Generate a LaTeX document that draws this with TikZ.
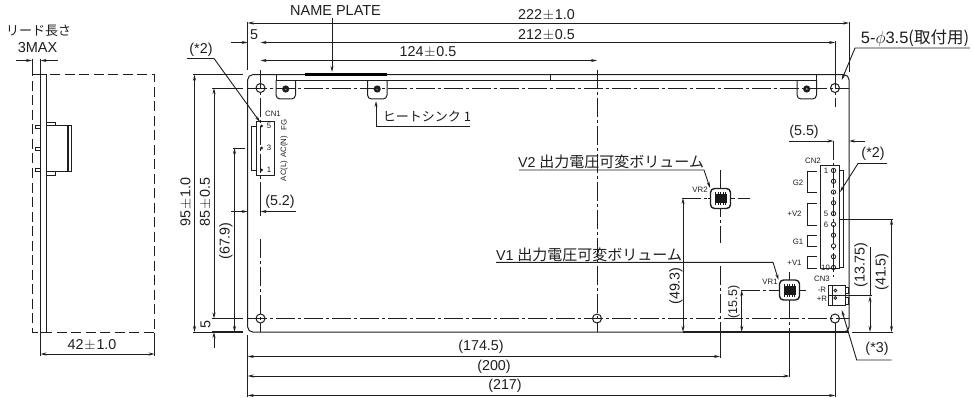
\documentclass[tikz,border=0pt]{standalone}
\usepackage{fontspec}
\setmainfont{Liberation Sans}
\newfontfamily\jpfont{Noto Sans CJK JP}
\usetikzlibrary{arrows.meta, positioning, calc}
\definecolor{ink}{RGB}{30, 30, 30}
\newcommand{\pmwide}{\hbox to 13pt{\hss$\pm$\hss}}
\tikzset{
  thin line/.style={draw=ink, line width=0.8pt},
  part line/.style={draw=ink, line width=1pt},
  dim line/.style={draw=ink, line width=0.9pt, {Stealth[length=6pt,width=3pt]}-{Stealth[length=6pt,width=3pt]}},
  tip end/.style={draw=ink, line width=0.9pt, -{Stealth[length=6pt,width=3pt]}},
  center line/.style={draw=ink, line width=0.8pt, dash pattern=on 19pt off 3pt on 3pt off 3pt},
  hidden line/.style={draw=ink, line width=1pt, dash pattern=on 10pt off 4.5pt},
  label text/.style={inner sep=0pt, text=ink, font=\fontsize{14.3}{16}\selectfont},
  tiny text/.style={inner sep=0pt, text=ink, font=\fontsize{7.8}{8}\selectfont},
}
\begin{document}
\begin{tikzpicture}[x=1pt, y=-1pt]
  \useasboundingbox (0,0) rectangle (973,398);
  % side view
  \draw[hidden line] (40.5,75) -- (32,75) -- (32,332) -- (154.7,332) -- (154.7,75) -- (46,75);
  \draw[part line] (40.5,75) rectangle (46,332);
  \draw[part line] (46,126) rectangle (71.7,171);
  \draw[draw=ink, line width=1.5pt] (68,126) -- (68,171);
  \draw[thin line] (46,122) -- (55,122) -- (55,126);
  \draw[thin line] (46,175) -- (55,175) -- (55,171);
  \foreach \py in {125.5, 147, 168.5} {
    \draw[thin line] (35.5,\py) rectangle (40.5,\py+3);
  }
  \draw[thin line] (32,59) -- (32,75);
  \draw[thin line] (40.5,59) -- (40.5,75);
  \draw[tip end] (16,60.5) -- (32,60.5);
  \draw[tip end] (58,60.5) -- (40.5,60.5);
  \node[label text, font=\jpfont\fontsize{13}{15}\selectfont] (leadlen) at (38.5,31) {リード長さ};
  \node[label text, font=\fontsize{14.5}{15}\selectfont] (leadmax) at (37.5,48) {3MAX};
  \draw[thin line] (40.5,333) -- (40.5,356);
  \draw[thin line] (154.7,333) -- (154.7,356);
  \draw[dim line] (40.5,354) -- (154.7,354);
  \node[label text] (depth) at (92,345) {42\pmwide 1.0};

  % board outline and heat sink
  \draw[part line, rounded corners=5pt] (247.7,74.7) rectangle (849,332);
  \draw[part line] (276,74.7) -- (276,80.5) -- (816.7,80.5) -- (816.7,74.7);
  \draw[draw=ink, line width=1.3pt] (276,74.7) -- (816.7,74.7);
  \draw[draw=black, line width=2.2pt] (305,74.5) -- (387,74.5);
  \draw[thin line] (550.7,75) -- (550.7,80.5);
  \foreach \tx in {276, 367.5, 797} {
    \draw[part line, rounded corners=4pt] (\tx,80.5) -- (\tx,99) -- (\tx+19.5,99) -- (\tx+19.5,80.5);
    \fill[ink] (\tx+9.7,89) circle (3.6pt);
    \fill[black!45] (\tx+9.7,89) circle (1.2pt);
  }

  % center lines
  \draw[center line] (248,88) -- (849,88);
  \draw[center line] (248,318.5) -- (849,318.5);
  \draw[center line] (260.5,70) -- (260.5,196);
  \draw[center line] (260.5,239) -- (260.5,332);
  \draw[center line] (597,70) -- (597,332);
  \draw[center line] (835,70) -- (835,107);
  \draw[center line] (720,170) -- (720,243);
  \draw[center line] (720,266) -- (720,332);
  \draw[center line] (789.5,272) -- (789.5,332);
  \draw[center line] (682,198) -- (750,198);
  \draw[center line] (741,290) -- (806,290);
  \draw[center line] (833.5,141) -- (833.5,277);
  \foreach \hx/\hy in {260.5/88, 835/88, 260.5/318.5, 597/318.5, 835/318.5} {
    \draw[part line] (\hx,\hy) circle (4.5pt);
  }

  % CN1
  \draw[thin line] (256,121.5) rectangle (274.3,175);
  \draw[thin line] (256,126.5) -- (251.7,126.5) -- (251.7,170) -- (256,170);
  \foreach \py/\pnum in {126/5, 148/3, 170/1} {
    \fill[ink] (261.5,\py) circle (1.5pt);
    \node[tiny text] (cna\pnum) at (269,\py) {\pnum};
  }
  \node[tiny text] (cn1) at (273,114) {CN1};
  \node[tiny text, rotate=90] (fg) at (284,125) {FG};
  \node[tiny text, rotate=90] (acn) at (284,147) {AC(N)};
  \node[tiny text, rotate=90] (acl) at (284,171) {AC(L)};

  % CN2
  \draw[thin line] (820.7,165) rectangle (839,268);
  \draw[thin line] (839,170) -- (843.7,170) -- (843.7,267.5) -- (839,267.5);
  \foreach \pin in {0,...,9} {
    \draw[thin line] (833.5,170.5+10.78*\pin) circle (2.2pt);
  }
  \node[tiny text] (pin1) at (826,170.5) {1};
  \node[tiny text] (pin5) at (826,214) {5};
  \node[tiny text] (pin6) at (826,225) {6};
  \node[tiny text] (pin10) at (825.5,267.5) {10};
  \node[tiny text] (cn2) at (813,161) {CN2};
  \foreach \by/\bh in {171/21.5, 203/22, 235/11, 256.7/11.3} {
    \draw[thin line] (816.7,\by) -- (807,\by) -- (807,\by+\bh) -- (816.7,\by+\bh);
  }
  \node[tiny text] (g2) at (798,183) {G2};
  \node[tiny text] (vtwo) at (794.5,214) {+V2};
  \node[tiny text] (g1) at (798,242) {G1};
  \node[tiny text] (vone) at (794.5,263) {+V1};

  % CN3
  \draw[part line] (828,285) rectangle (845,305);
  \draw[thin line] (828,295) -- (845,295);
  \draw[thin line] (832,285) -- (832,305);
  \draw[thin line] (845,287) -- (848,287) -- (848,293) -- (845,293);
  \draw[thin line] (845,297) -- (848,297) -- (848,304) -- (845,304);
  \foreach \py in {290.5, 298} {
    \draw[thin line] (835.3,\py) circle (1.4pt);
  }
  \node[tiny text] (cn3) at (822,279) {CN3};
  \node[tiny text] (rminus) at (822,290) {-R};
  \node[tiny text] (rplus) at (822,299) {+R};

  % volume trimmers
  \foreach \vx/\vy in {720.5/198.5, 789.5/290} {
    \draw[draw=ink, line width=1.4pt, fill=white, rounded corners=4pt] (\vx-10,\vy-10) rectangle (\vx+10,\vy+10);
    \fill[black!90] (\vx-6,\vy-4.5) rectangle (\vx+6,\vy+4.5);
    \foreach \tick in {-5,-2.5,0,2.5,5} {
      \draw[draw=black!90, line width=0.8pt] (\vx+\tick,\vy-6.5) -- (\vx+\tick,\vy+6.5);
    }
    \draw[draw=ink, line width=0.8pt] (\vx,\vy-13) -- (\vx,\vy-10) (\vx,\vy+10) -- (\vx,\vy+13)
      (\vx-13,\vy) -- (\vx-10,\vy) (\vx+10,\vy) -- (\vx+13,\vy);
  }
  \node[tiny text] (vr2) at (700,190) {VR2};
  \node[tiny text] (vr1) at (770,282) {VR1};
  \draw[draw=ink, line width=1.5pt] (683,332) -- (849,332);

  % width dimensions
  \draw[thin line] (247.7,22) -- (247.7,70);
  \draw[thin line] (849,22) -- (849,72);
  \draw[thin line] (835,41) -- (835,70);
  \draw[dim line] (247.7,23) -- (849,23);
  \draw[dim line] (260.5,42.5) -- (835,42.5);
  \draw[tip end] (231,42.5) -- (247.7,42.5);
  \draw[dim line] (260.5,60.5) -- (597,60.5);
  \node[label text] (w222) at (546.5,15) {222\pmwide 1.0};
  \node[label text] (w212) at (546.5,35) {212\pmwide 0.5};
  \node[label text] (w124) at (428,52) {124\pmwide 0.5};
  \node[label text] (w5) at (254,35) {5};
  \node[label text, font=\fontsize{14.5}{15}\selectfont] (plate) at (335.5,10.5) {NAME PLATE};
  \draw[tip end] (332,18) -- (332,72);

  % height dimensions
  \draw[thin line] (193,74.7) -- (243,74.7);
  \draw[thin line] (193,332) -- (243,332);
  \draw[thin line] (212,88) -- (243,88);
  \draw[draw=ink, line width=1.2pt] (212,318.5) -- (243,318.5);
  \draw[draw=ink, line width=1.2pt] (212,332) -- (243,332);
  \draw[thin line] (233,148) -- (245,148);
  \draw[dim line] (194.5,74.7) -- (194.5,332);
  \draw[tip end] (214,348) -- (214,332);
  \draw[dim line] (214,88) -- (214,318.5);
  \draw[dim line] (234.5,148) -- (234.5,332);
  \node[label text, rotate=90] (h95) at (186,202) {95\pmwide 1.0};
  \node[label text, rotate=90] (h85) at (205.5,202) {85\pmwide 0.5};
  \node[label text, rotate=90] (h5) at (205.5,325) {5};
  \node[label text, rotate=90] (h679) at (226,241) {(67.9)};
  \draw[thin line] (260.5,196) -- (260.5,216);
  \draw[tip end] (231,211.5) -- (247.7,211.5);
  \draw[tip end] (296,211.5) -- (260.5,211.5);
  \node[label text] (c52) at (280,202) {(5.2)};

  % bottom dimensions
  \draw[thin line] (247.7,335) -- (247.7,397);
  \draw[thin line] (720,332) -- (720,358);
  \draw[thin line] (789.5,332) -- (789.5,377);
  \draw[thin line] (835,323) -- (835,397);
  \draw[dim line] (247.7,356.5) -- (720,356.5);
  \draw[dim line] (247.7,376) -- (789.5,376);
  \draw[dim line] (247.7,395.5) -- (835,395.5);
  \node[label text] (x1745) at (481,347) {(174.5)};
  \node[label text] (x200) at (494,367) {(200)};
  \node[label text] (x217) at (505,386) {(217)};

  % trimmer dimensions
  \draw[dim line] (683,198) -- (683,332);
  \draw[dim line] (741.7,290) -- (741.7,332);
  \node[label text, rotate=90] (y493) at (676,286) {(49.3)};
  \node[label text, rotate=90, font=\fontsize{12.5}{14}\selectfont] (y155) at (734,302) {(15.5)};

  % right dimensions
  \draw[tip end] (789,141) -- (833.5,141);
  \draw[tip end] (865,141) -- (849,141);
  \node[label text] (c55) at (804,132) {(5.5)};
  \draw[thin line] (839,219) -- (893,219);
  \draw[thin line] (845,295) -- (872,295);
  \draw[thin line] (852,332) -- (893,332);
  \draw[dim line] (891.5,219) -- (891.5,332);
  \draw[dim line] (870,296) -- (870,332);
  \draw[thin line] (870,247) -- (870,296);
  \node[label text, rotate=90] (y1375) at (861,265) {(13.75)};
  \node[label text, rotate=90] (y415) at (882,272) {(41.5)};

  % leaders
  \node[label text] (notea) at (201,50) {(*2)};
  \draw[thin line] (187,58.5) -- (214,58.5);
  \draw[tip end] (214,58.5) -- (260,122);
  \node[label text] (sink) at (427,117) {\jpfont\fontsize{13}{15}\selectfont ヒートシンク 1};
  \draw[tip end] (470,126.5) -- (376,126.5) -- (376,101);
  \node[label text] (vtwotxt) at (611,162) {V2 \jpfont\fontsize{15}{16}\selectfont 出力電圧可変ボリューム};
  \draw[tip end] (519,170) -- (704,170) -- (710,188);
  \node[label text] (vonetxt) at (589,255) {V1 \jpfont\fontsize{15}{16}\selectfont 出力電圧可変ボリューム};
  \draw[tip end] (496,262.3) -- (773,262.3) -- (778.5,280);
  \node[label text, font=\fontsize{16.5}{18}\selectfont] (holes) at (915,38) {5-$\phi$3.5\jpfont (取付用)};
  \draw[tip end] (970,48) -- (855,48) -- (841.7,80);
  \node[label text] (noteb) at (873,154) {(*2)};
  \draw[tip end] (887,163.5) -- (858,163.5) -- (840,192);
  \node[label text] (notec) at (877,349) {(*3)};
  \draw[tip end] (891.7,360) -- (856.7,360) -- (841.7,310);
\end{tikzpicture}
\end{document}
